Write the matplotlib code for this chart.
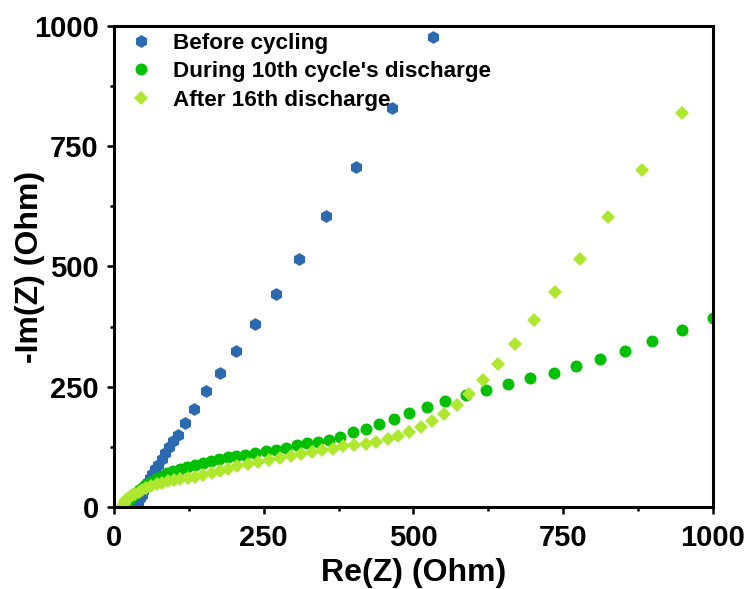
import matplotlib
matplotlib.use("Agg")
import matplotlib.pyplot as plt
from matplotlib.ticker import MultipleLocator

plt.rcParams['font.family'] = ['Liberation Sans', 'DejaVu Sans']
plt.rcParams['font.weight'] = 'bold'

# Nyquist data: Re(Z) and -Im(Z) in Ohm
before_re = [37, 40, 43, 46, 49, 52, 56, 60, 64, 69, 74, 80, 86, 92, 99, 107,
             118, 134, 153, 177, 204, 235, 270, 309, 354, 404, 464, 532]
before_im = [3, 10, 18, 26, 34, 42, 51, 60, 68, 78, 88, 100, 112, 125, 137, 150,
             174, 203, 242, 279, 325, 380, 442, 516, 604, 706, 829, 977]

during_re = [18, 20, 22, 25, 28, 32, 36, 41, 46, 52, 58, 65, 72, 80, 89, 99,
             110, 122, 135, 148, 162, 176, 190, 204, 219, 236, 253, 270, 287,
             305, 322, 341, 359, 378, 399, 420, 443, 467, 493, 522, 553, 587,
             621, 658, 694, 734, 771, 812, 853, 898, 948, 1000]
during_im = [2, 6, 10, 15, 20, 25, 30, 35, 40, 45, 50, 55, 60, 65, 70, 75,
             80, 84, 88, 92, 96, 100, 103, 106, 109, 112, 116, 119, 123,
             128, 133, 136, 140, 146, 155, 163, 173, 183, 195, 208, 220, 232,
             243, 255, 268, 279, 293, 308, 325, 346, 368, 393]

after_re = [15, 17, 19, 22, 26, 30, 35, 41, 47, 54, 62, 71, 80, 90, 100, 111,
            123, 136, 149, 163, 177, 191, 206, 224, 241, 259, 277, 295, 313,
            331, 348, 366, 383, 401, 420, 438, 457, 475, 493, 512, 531, 551,
            572, 593, 616, 642, 669, 701, 737, 778, 825, 882, 948]
after_im = [3, 7, 12, 16, 20, 24, 28, 32, 36, 39, 43, 47, 50, 54, 57, 59,
            61, 63, 67, 71, 75, 80, 85, 90, 94, 97, 101, 106, 110,
            114, 118, 121, 126, 128, 132, 135, 141, 148, 156, 166, 178, 193,
            213, 235, 264, 297, 338, 388, 447, 516, 602, 701, 819]

labels = ["Before cycling", "During 10th cycle's discharge", "After 16th discharge"]
colors = ["#2b6ab0", "#00c000", "#aee82e"]

fig = plt.figure(figsize=(7.48, 5.89), dpi=100)
ax = fig.add_axes([0.1524, 0.1392, 0.8006, 0.8167])

ax.plot(before_re, before_im, linestyle='none', marker='h', markersize=9.2,
        markeredgewidth=0, color=colors[0], label=labels[0])
ax.plot(during_re, during_im, linestyle='none', marker='o', markersize=8.6,
        markeredgewidth=0, color=colors[1], label=labels[1])
ax.plot(after_re, after_im, linestyle='none', marker='D', markersize=7.4,
        markeredgewidth=0, color=colors[2], label=labels[2])

ax.set_xlim(0, 1000)
ax.set_ylim(0, 1000)
ax.xaxis.set_major_locator(MultipleLocator(250))
ax.xaxis.set_minor_locator(MultipleLocator(125))
ax.yaxis.set_major_locator(MultipleLocator(250))
ax.yaxis.set_minor_locator(MultipleLocator(125))

for s in ax.spines.values():
    s.set_linewidth(2.2)
ax.tick_params(which='major', direction='out', length=5, width=1.8,
               labelsize=21)
ax.tick_params(axis='x', which='major', pad=7)
ax.tick_params(axis='y', which='major', pad=6)
ax.tick_params(which='minor', direction='out', length=3, width=1.8)
for lbl in ax.get_xticklabels() + ax.get_yticklabels():
    lbl.set_fontweight('bold')

ax.set_xlabel("Re(Z) (Ohm)", fontsize=23, fontweight='bold', labelpad=4.2)
ax.set_ylabel("-Im(Z) (Ohm)", fontsize=23, fontweight='bold', labelpad=-7.7)

leg = ax.legend(loc='upper left', bbox_to_anchor=(0.012, 1.0), frameon=False,
                prop={'size': 16.2, 'weight': 'bold'}, handletextpad=0.8,
                labelspacing=0.33, borderaxespad=0.0, handlelength=1.2,
                borderpad=0.3)

fig.savefig("out.png", dpi=100)
